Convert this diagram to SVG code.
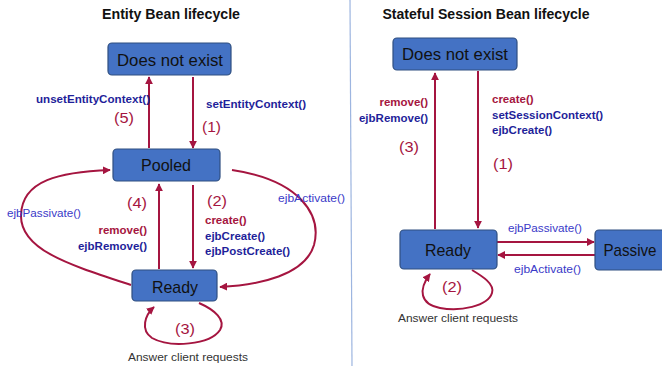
<svg xmlns="http://www.w3.org/2000/svg" width="662" height="366" viewBox="0 0 662 366">
<style>
.node{fill:#4472C4;stroke:#2F4F80;stroke-width:1.2}
.nt{font-family:"Liberation Sans",Arial,sans-serif;font-size:17px;fill:#111;text-anchor:middle}
.title{font-family:"Liberation Sans",Arial,sans-serif;font-size:14px;font-weight:bold;fill:#111;text-anchor:middle}
.edge{fill:none;stroke:#A51540;stroke-width:2}
.num{font-family:"Liberation Sans",Arial,sans-serif;font-size:15px;fill:#A51540}
.rb{font-family:"Liberation Sans",Arial,sans-serif;font-size:11.5px;font-weight:bold;fill:#A51540}
.bb{font-family:"Liberation Sans",Arial,sans-serif;font-size:11.5px;font-weight:bold;fill:#1F1F9A}
.bl{font-family:"Liberation Sans",Arial,sans-serif;font-size:11px;fill:#3A3AC8}
.ans{font-family:"Liberation Sans",Arial,sans-serif;font-size:11.5px;fill:#333}
</style>
<defs>
<marker id="ah" viewBox="0 0 10 10" refX="9" refY="5" markerWidth="4" markerHeight="4" orient="auto" markerUnits="strokeWidth">
<path d="M0,0 L10,5 L0,10 z" fill="#A51540"/>
</marker>
</defs>
<rect width="662" height="366" fill="#fff"/>
<line x1="350" y1="0" x2="352" y2="366" stroke="#9DB5E0" stroke-width="1.2"/>
<text class="title" x="171" y="19" textLength="138" lengthAdjust="spacingAndGlyphs">Entity Bean lifecycle</text>
<text class="title" x="486" y="19" textLength="207" lengthAdjust="spacingAndGlyphs">Stateful Session Bean lifecycle</text>

<g id="connectors">
<line class="edge" x1="149" y1="148" x2="149" y2="77" marker-end="url(#ah)"/>
<line class="edge" x1="193" y1="77" x2="193" y2="148" marker-end="url(#ah)"/>
<line class="edge" x1="159" y1="269" x2="159" y2="184" marker-end="url(#ah)"/>
<line class="edge" x1="193" y1="185" x2="193" y2="268" marker-end="url(#ah)"/>
<path class="edge" d="M131,285 C70,265 20,250 21,215 C22,180 60,172 110,170" marker-end="url(#ah)"/>
<path class="edge" d="M232,170 C300,180 322,215 314,245 C305,275 260,285 220,287" marker-end="url(#ah)"/>
<path class="edge" d="M199,303 C215,310 226,320 220,330 C210,345 170,348 152,338 C140,330 145,315 154,307" marker-end="url(#ah)"/>
<line class="edge" x1="435" y1="229" x2="435" y2="73" marker-end="url(#ah)"/>
<line class="edge" x1="478" y1="71" x2="478" y2="228" marker-end="url(#ah)"/>
<line class="edge" x1="497" y1="242" x2="594" y2="242" marker-end="url(#ah)"/>
<line class="edge" x1="595" y1="255" x2="498" y2="255" marker-end="url(#ah)"/>
<path class="edge" d="M472,270 C482,276 495,284 492,293 C488,306 460,312 440,308 C420,304 418,290 430,274" marker-end="url(#ah)"/>
</g>

<g id="left-does-not-exist">
<rect class="node" x="108" y="43" width="123" height="32" rx="4"/>
<text class="nt" x="170" y="66" textLength="106" lengthAdjust="spacingAndGlyphs">Does not exist</text>
</g>
<g id="pooled">
<rect class="node" x="113" y="149" width="107" height="32" rx="4"/>
<text class="nt" x="166" y="171" textLength="50" lengthAdjust="spacingAndGlyphs">Pooled</text>
</g>
<g id="left-ready">
<rect class="node" x="132" y="270" width="85" height="31" rx="4"/>
<text class="nt" x="175" y="293" textLength="46" lengthAdjust="spacingAndGlyphs">Ready</text>
</g>
<g id="right-does-not-exist">
<rect class="node" x="393" y="38" width="124" height="32" rx="4"/>
<text class="nt" x="455" y="60" textLength="106" lengthAdjust="spacingAndGlyphs">Does not exist</text>
</g>
<g id="right-ready">
<rect class="node" x="400" y="230" width="97" height="39" rx="4"/>
<text class="nt" x="448" y="256" textLength="46" lengthAdjust="spacingAndGlyphs">Ready</text>
</g>
<g id="passive">
<rect class="node" x="595" y="230" width="75" height="40" rx="4"/>
<text class="nt" x="630" y="256" textLength="53" lengthAdjust="spacingAndGlyphs">Passive</text>
</g>

<g id="labels">
<text class="bb" x="36" y="103" textLength="114" lengthAdjust="spacingAndGlyphs">unsetEntityContext()</text>
<text class="num" x="114" y="123" textLength="20" lengthAdjust="spacingAndGlyphs">(5)</text>
<text class="bb" x="206" y="108" textLength="100" lengthAdjust="spacingAndGlyphs">setEntityContext()</text>
<text class="num" x="202" y="132" textLength="19" lengthAdjust="spacingAndGlyphs">(1)</text>
<text class="num" x="127" y="208" textLength="20" lengthAdjust="spacingAndGlyphs">(4)</text>
<text class="rb" x="147" y="234" text-anchor="end">remove()</text>
<text class="bb" x="147" y="250" text-anchor="end">ejbRemove()</text>
<text class="num" x="207" y="206" textLength="20" lengthAdjust="spacingAndGlyphs">(2)</text>
<text class="rb" x="205" y="224">create()</text>
<text class="bb" x="205" y="240">ejbCreate()</text>
<text class="bb" x="205" y="255">ejbPostCreate()</text>
<text class="bl" x="7" y="217" textLength="74" lengthAdjust="spacingAndGlyphs">ejbPassivate()</text>
<text class="bl" x="278" y="202" textLength="67" lengthAdjust="spacingAndGlyphs">ejbActivate()</text>
<text class="num" x="175" y="334" textLength="20" lengthAdjust="spacingAndGlyphs">(3)</text>
<text class="ans" x="128" y="361" textLength="120" lengthAdjust="spacingAndGlyphs">Answer client requests</text>
<text class="rb" x="428" y="106" text-anchor="end">remove()</text>
<text class="bb" x="428" y="122" text-anchor="end">ejbRemove()</text>
<text class="num" x="399" y="152" textLength="20" lengthAdjust="spacingAndGlyphs">(3)</text>
<text class="rb" x="492" y="103">create()</text>
<text class="bb" x="492" y="119">setSessionContext()</text>
<text class="bb" x="492" y="134">ejbCreate()</text>
<text class="num" x="493" y="169" textLength="20" lengthAdjust="spacingAndGlyphs">(1)</text>
<text class="bl" x="508" y="232" textLength="74" lengthAdjust="spacingAndGlyphs">ejbPassivate()</text>
<text class="bl" x="514" y="273" textLength="67" lengthAdjust="spacingAndGlyphs">ejbActivate()</text>
<text class="num" x="442" y="292" textLength="20" lengthAdjust="spacingAndGlyphs">(2)</text>
<text class="ans" x="398" y="322" textLength="120" lengthAdjust="spacingAndGlyphs">Answer client requests</text>
</g>
</svg>
